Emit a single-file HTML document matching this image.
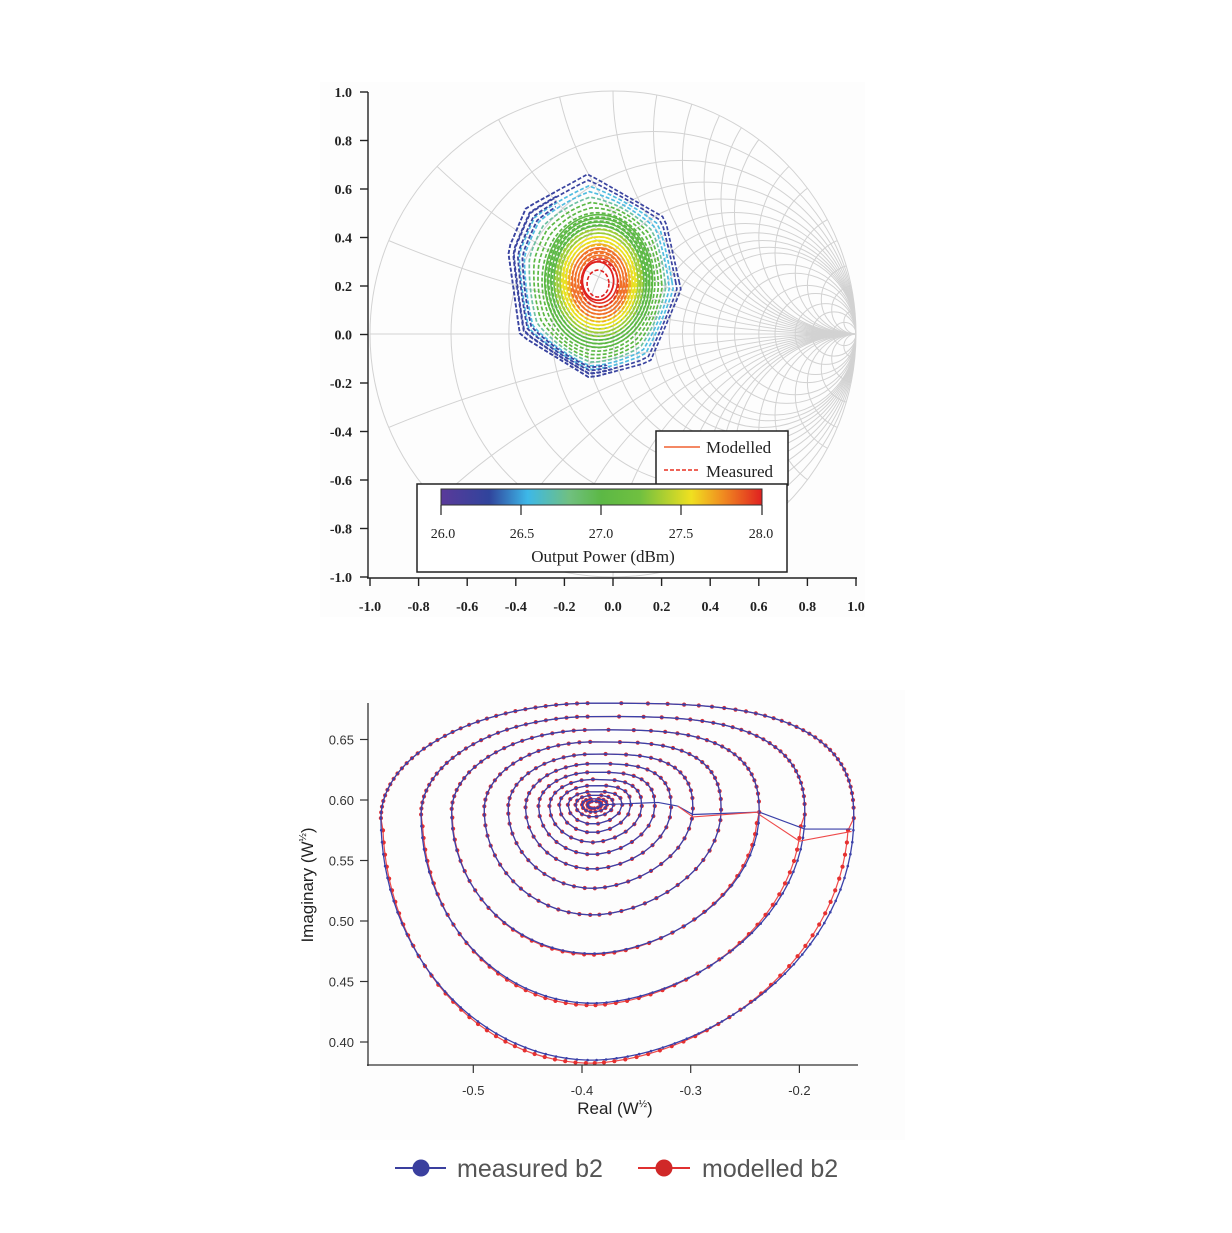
<!DOCTYPE html>
<html><head><meta charset="utf-8"><style>
html,body{margin:0;padding:0;background:#fff;overflow:hidden;width:1232px;height:1233px}
svg{display:block}
</style></head><body>
<svg id="s" width="1232" height="1233" xmlns="http://www.w3.org/2000/svg">
<rect width="1232" height="1233" fill="#fff"/>
<rect x="320" y="82" width="545" height="535" fill="#fdfdfd"/>
<rect x="320" y="690" width="585" height="450" fill="#fdfdfd"/>
<defs><clipPath id="cc"><circle cx="613" cy="334" r="243"/></clipPath></defs>
<g id="smith" clip-path="url(#cc)" fill="none" stroke="#d2d2d2" stroke-width="1"></g>
<circle cx="613" cy="334" r="243" fill="none" stroke="#d2d2d2" stroke-width="1"/>
<line x1="370" y1="334" x2="856" y2="334" stroke="#d2d2d2"/>
<g id="cont" fill="none"></g>
<g id="topaxes" stroke="#222" stroke-width="1.4" fill="none"></g>
<g id="toptext" font-family="Liberation Serif, serif" font-size="14" font-weight="bold" fill="#222"></g>
<rect x="656" y="431" width="132" height="54" fill="#fff" stroke="#222" stroke-width="1.5"/>
<line x1="664" y1="447" x2="700" y2="447" stroke="#f06030" stroke-width="1.6"/>
<line x1="664" y1="470" x2="700" y2="470" stroke="#e83020" stroke-width="1.6" stroke-dasharray="4 2"/>
<text x="706" y="453" font-family="Liberation Serif, serif" font-size="17" fill="#222">Modelled</text>
<text x="706" y="477" font-family="Liberation Serif, serif" font-size="17" fill="#222">Measured</text>
<rect x="417" y="484" width="370" height="88" fill="#fff" stroke="#222" stroke-width="1.5"/>
<defs><linearGradient id="jet" x1="0" x2="1" y1="0" y2="0">
<stop offset="0" stop-color="#5a3a9a"/><stop offset="0.15" stop-color="#30449c"/><stop offset="0.27" stop-color="#3db8e8"/><stop offset="0.4" stop-color="#70c080"/><stop offset="0.5" stop-color="#5cb845"/><stop offset="0.62" stop-color="#70c040"/><stop offset="0.78" stop-color="#f0e020"/><stop offset="0.88" stop-color="#f08a20"/><stop offset="1" stop-color="#e02020"/></linearGradient></defs>
<rect x="441" y="489" width="321" height="16" fill="url(#jet)" stroke="#333" stroke-width="1"/>
<g stroke="#222" stroke-width="1.2"><line x1="441" y1="505" x2="441" y2="515"/><line x1="521" y1="505" x2="521" y2="515"/><line x1="601" y1="505" x2="601" y2="515"/><line x1="681" y1="505" x2="681" y2="515"/><line x1="762" y1="505" x2="762" y2="515"/></g>
<g font-family="Liberation Serif, serif" font-size="14" fill="#222" text-anchor="middle">
<text x="443" y="538">26.0</text><text x="522" y="538">26.5</text><text x="601" y="538">27.0</text><text x="681" y="538">27.5</text><text x="761" y="538">28.0</text>
<text x="603" y="562" font-size="17">Output Power (dBm)</text></g>
<g id="bot" fill="none"></g>
<g stroke="#333" stroke-width="1.3"><line x1="368" y1="703" x2="368" y2="1066"/><line x1="367" y1="1065" x2="858" y2="1065"/></g>
<g id="bt" font-family="Liberation Sans, sans-serif" font-size="13" fill="#333"></g>
<text x="615" y="1114" text-anchor="middle" font-family="Liberation Sans, sans-serif" font-size="17" fill="#222">Real (W<tspan font-size="10" dy="-7">½</tspan><tspan dy="7">)</tspan></text>
<text transform="translate(313,885) rotate(-90)" text-anchor="middle" font-family="Liberation Sans, sans-serif" font-size="17" fill="#222">Imaginary (W<tspan font-size="10" dy="-7">½</tspan><tspan dy="7">)</tspan></text>
<line x1="395" y1="1168" x2="446" y2="1168" stroke="#3a3f9e" stroke-width="2"/><circle cx="421" cy="1168" r="8.5" fill="#3a3f9e"/>
<text x="457" y="1177" font-family="Liberation Sans, sans-serif" font-size="25" fill="#555">measured b2</text>
<line x1="638" y1="1168" x2="690" y2="1168" stroke="#e03030" stroke-width="2"/><circle cx="664" cy="1168" r="8.5" fill="#d02828"/>
<text x="702" y="1177" font-family="Liberation Sans, sans-serif" font-size="25" fill="#555">modelled b2</text>
</svg>
<script>
var NS="http://www.w3.org/2000/svg";
function el(p,t,a,txt){var e=document.createElementNS(NS,t);for(var k in a)e.setAttribute(k,a[k]);if(txt!==undefined)e.textContent=txt;document.getElementById(p).appendChild(e);return e;}
var CX=613,CY=334,R=243;
var rs=[0.2,0.4,0.6,0.8,1,1.2,1.4,1.6,1.8,2,2.5,3,4,5,7,10,20];
rs.forEach(function(r){el("smith","circle",{cx:CX+R*r/(1+r),cy:CY,r:R/(1+r)});});
var xs=[0.2,0.4,0.6,0.8,1,1.2,1.4,1.6,1.8,2,2.5,3,4,5,7,10,20];
xs.forEach(function(x){el("smith","circle",{cx:CX+R,cy:CY-R/x,r:R/x});el("smith","circle",{cx:CX+R,cy:CY+R/x,r:R/x});});
el("topaxes","line",{x1:368,y1:92,x2:368,y2:578});
el("topaxes","line",{x1:367,y1:578,x2:857,y2:578});
for(var i=0;i<=10;i++){var v=(1-i*0.2);var y=92+i*48.5;el("topaxes","line",{x1:360,y1:y,x2:368,y2:y});
 el("toptext","text",{x:352,y:y+5,"text-anchor":"end"},(Math.abs(v)<1e-9?"0.0":v.toFixed(1)));
 var x=370+i*48.6;el("topaxes","line",{x1:x,y1:578,x2:x,y2:586});
 var vv=-1+i*0.2;el("toptext","text",{x:x,y:611,"text-anchor":"middle"},(Math.abs(vv)<1e-9?"0.0":vv.toFixed(1)));}
var poly=[[588,174],[665,218],[681,290],[650,362],[590,378],[520,335],[508,250],[526,208]];
var c0=[598,281];
function col(k,ux){if(k>0.93)return ux<0.2?"#3a44a0":"#48a8dc";if(k>0.86)return ux<-0.3?"#3a44a0":"#50bce0";if(k>0.80)return"#6cc0a0";if(k>0.58)return"#5cb845";if(k>0.50)return"#9ccc38";if(k>0.43)return"#e8e020";if(k>0.36)return"#f0b020";if(k>0.26)return"#f07028";return"#e03020";}
function shape(k,dx,dy){var pts=[];var N=64;
 for(var j=0;j<N;j++){var t=j/N*2*Math.PI;var ux=Math.cos(t),uy=Math.sin(t);
  var best=1e9;for(var a=0;a<poly.length;a++){var p=poly[a],q=poly[(a+1)%poly.length];
   var px=p[0]-c0[0],py=p[1]-c0[1],qx=q[0]-c0[0],qy=q[1]-c0[1];var ex=qx-px,ey=qy-py;var den=ux*ey-uy*ex;if(Math.abs(den)<1e-9)continue;
   var s=(px*ey-py*ex)/den;var u=(px*uy-py*ux)/den;if(s>0&&u>=0&&u<=1&&s<best)best=s;}
  var er=Math.sqrt(1/((ux*ux)/(78*78)+(uy*uy)/(96*96)));
  var w=Math.min(1,Math.max(0,(k-0.7)/0.3));var rr=k*(w*best+(1-w)*er);
  pts.push([c0[0]+dx*(1-k)+rr*ux,c0[1]+dy*(1-k)+rr*uy]);}
 return "M"+pts.map(function(p){return p[0].toFixed(1)+","+p[1].toFixed(1)}).join("L")+"Z";}
for(var n=0;n<20;n++){var k=1-n*0.04;var c=col(k,0);
 el("cont","path",{d:shape(k,2,4),stroke:c,"stroke-width":1.7,"stroke-dasharray":"4 2"});
 if(k<0.75) el("cont","path",{d:shape(k*0.96,2,0),stroke:c,"stroke-width":1.6});}
// blue left side overlay
for(var n=0;n<4;n++){var k=1-n*0.035;el("cont","path",{d:shape(k,2,4),stroke:"#3a44a0","stroke-width":1.8,"stroke-dasharray":"4 2","clip-path":"url(#lc)"});}
el("cont","path",{d:shape(0.2,0,0),stroke:"#e02020","stroke-width":1.8});
el("cont","path",{d:shape(0.14,0,3),stroke:"#e02020","stroke-width":1.6,"stroke-dasharray":"4 2"});
var defs=document.createElementNS(NS,"defs");defs.innerHTML='<clipPath id="lc"><polygon points="480,160 560,170 545,300 600,360 640,390 480,390"/></clipPath>';document.getElementById("s").appendChild(defs);
function X(v){return 582+(v+0.4)*1087;}function Y(v){return 800-(v-0.6)*1210;}
var loops=[[-0.585,-0.150,0.680,0.385,0.585],[-0.548,-0.195,0.669,0.432,0.588],[-0.520,-0.237,0.658,0.473,0.590],[-0.490,-0.272,0.648,0.505,0.592],[-0.468,-0.298,0.638,0.527,0.593],[-0.452,-0.318,0.630,0.543,0.594],[-0.440,-0.333,0.623,0.555,0.595],[-0.430,-0.345,0.617,0.565,0.595],[-0.421,-0.355,0.612,0.573,0.596],[-0.413,-0.363,0.607,0.580,0.596],[-0.406,-0.371,0.604,0.586,0.596],[-0.400,-0.377,0.601,0.590,0.596],[-0.395,-0.382,0.599,0.593,0.596]];
function loopPts(L,off){var l=L[0],r=L[1],t=L[2],b=L[3],cy=L[4];var cx=-0.39;var pts=[];
 var per=(X(r)-X(l))*2+(Y(b)-Y(t))*1.6;var N=Math.max(14,Math.round(per/12));
 for(var j=0;j<N;j++){var a=j/N*2*Math.PI;var ca=Math.cos(a),sa=Math.sin(a);
  var hx=ca>0?(r-cx):(cx-l);var vy=sa>0?(t-cy):(cy-b);
  var x=cx+hx*ca;var y=cy+vy*sa;
  if(sa>0&&ca>0){x=cx+hx*Math.pow(ca,0.6);y=cy+vy*Math.pow(sa,0.8);}
  if(sa<0&&ca>0){x=cx+hx*Math.pow(ca,1.15);}
  var px=X(x),py=Y(y);
  if(off&&sa<0){px+=off*(-ca)*1.2-off*0.6;py+=off*(-sa)*1.0;}
  pts.push([px,py]);}
 return pts;}
function draw(pts,stroke,w,dotc,dr){el("bot","path",{d:"M"+pts.map(function(p){return p[0].toFixed(1)+","+p[1].toFixed(1)}).join("L")+"Z",stroke:stroke,"stroke-width":w});
 pts.forEach(function(p){el("bot","circle",{cx:p[0].toFixed(1),cy:p[1].toFixed(1),r:dr,fill:dotc});});}
loops.forEach(function(L,i){var off=i<3?(3-i)*1.0:0;
 draw(loopPts(L,off),"#ee4a4a",1.2,"#e53030",2.1);
 draw(loopPts(L,0),"#3a40a8",1.3,"#3a40a8",1.3);});
[[[ -0.312,0.595],[-0.298,0.588],[-0.237,0.590]],[[-0.237,0.590],[-0.195,0.576],[-0.152,0.576]]].forEach(function(s){
 el("bot","path",{d:"M"+s.map(function(p){return X(p[0])+","+Y(p[1])}).join("L"),stroke:"#3a40a8","stroke-width":1.2});});
[[[-0.312,0.595],[-0.298,0.586],[-0.237,0.590]],[[-0.237,0.588],[-0.200,0.566],[-0.152,0.574]]].forEach(function(s){
 el("bot","path",{d:"M"+s.map(function(p){return X(p[0])+","+Y(p[1])}).join("L"),stroke:"#ee4a4a","stroke-width":1.1});});
el("bot","path",{d:"M"+X(-0.385)+","+Y(0.596)+"L"+X(-0.33)+","+Y(0.598)+"L"+X(-0.312)+","+Y(0.595),stroke:"#3a40a8","stroke-width":1.2});
[0.65,0.60,0.55,0.50,0.45,0.40].forEach(function(v){var y=Y(v);el("bot","line",{x1:360,y1:y,x2:368,y2:y,stroke:"#333","stroke-width":1.2});el("bt","text",{x:354,y:y+5,"text-anchor":"end"},v.toFixed(2));});
[-0.5,-0.4,-0.3,-0.2].forEach(function(v){var x=X(v);el("bot","line",{x1:x,y1:1065,x2:x,y2:1073,stroke:"#333","stroke-width":1.2});el("bt","text",{x:x,y:1095,"text-anchor":"middle"},v.toFixed(1));});
</script>
</body></html>
